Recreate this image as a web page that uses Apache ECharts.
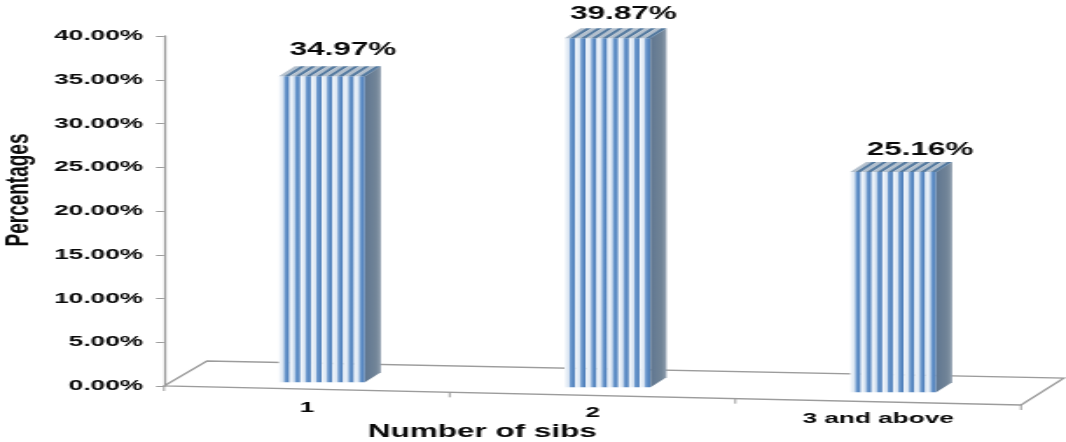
<!DOCTYPE html>
<html>
<head>
<meta charset="utf-8">
<style>
  html, body { margin: 0; padding: 0; background: #fff; overflow: hidden; }
  #chart { width: 610px; height: 442px; transform: scaleX(1.7475); transform-origin: 0 0; }
</style>
<script src="https://cdn.jsdelivr.net/npm/echarts@6/dist/echarts.min.js"></script>
</head>
<body>
<div id="chart"></div>
<script>
const categories = ['1', '2', '3 and above'];
const percentages = [34.97, 39.87, 25.16];

const FONT = '"Liberation Sans", Arial, sans-serif';
const INK = '#0a0a0a';
const RULE = '#9c9c9c';
const K = 1066 / 610;

// Pseudo-3D proportions, in unscaled chart pixels
const barW = 86 / K, depthX = 16 / K, depthY = 10;
const stripes = 8;
const floorDrop = 19, floorBackDrop = 17, floorBackX = 43 / K, floorBackY = 25;
const barShift = 15 / K, barSlope = 0.0175 * K, barSetback = 6.6;
const labelNudgeX = [21 / K, 16 / K, 27 / K];
const labelNudgeY = [16, 14, 12];

const chart = echarts.init(document.getElementById('chart'), null, { devicePixelRatio: 1 });

function stripeFill() {
  return {
    type: 'linear', x: 0, y: 0, x2: 1, y2: 0,
    colorStops: [
      { offset: 0, color: '#f6f9fc' },
      { offset: 0.4, color: '#d8e4f2' },
      { offset: 0.55, color: '#6f9bcf' },
      { offset: 0.85, color: '#4f80bb' },
      { offset: 1, color: '#a9c3e2' }
    ]
  };
}

// Sloped floor with its tick marks, anchored on the axis corners
function renderFloor(params, api) {
  const rect = params.coordSys;
  const ox = rect.x;
  const oy = api.coord([0, 0])[1];
  const right = rect.x + rect.width;
  const line = { stroke: RULE, lineWidth: 1.3, fill: null };
  const front = x => oy + (x - ox) * floorDrop / rect.width;
  const children = [{
    type: 'polygon',
    shape: { points: [
      [ox, oy], [ox + floorBackX, oy - floorBackY],
      [right + floorBackX, oy - floorBackY + floorBackDrop], [right, oy + floorDrop]
    ] },
    style: line
  }];
  for (let i = 0; i <= categories.length; i++) {
    const x = rect.x + rect.width * i / categories.length;
    children.push({
      type: 'line',
      shape: { x1: x, y1: front(x), x2: x, y2: front(x) + 5 },
      style: { stroke: RULE, lineWidth: 1 }
    });
  }
  return { type: 'group', children };
}

function renderBar(params, api) {
  const i = api.value(0);
  const v = api.value(1);
  const ox = params.coordSys.x;
  const zero = api.coord([0, 0])[1];
  const full = api.coord([0, v])[1];
  const cx = api.coord([i, 0])[0] + barShift;
  const x0 = cx - barW / 2, x1 = cx + barW / 2;
  const base = zero - barSetback + (cx - ox) * barSlope;
  const top = base - (zero - full);
  const sw = barW / stripes;
  const children = [];

  for (let s = 0; s < stripes; s++) {
    children.push({
      type: 'rect',
      shape: { x: x0 + s * sw, y: top, width: sw + 0.2, height: base - top },
      style: { fill: stripeFill() }
    });
  }
  // right-hand face
  children.push({
    type: 'polygon',
    shape: { points: [[x1, top], [x1 + depthX, top - depthY], [x1 + depthX, base - depthY], [x1, base]] },
    style: { fill: { type: 'linear', x: 0, y: 0, x2: 1, y2: 0, colorStops: [
      { offset: 0, color: '#5f7690' }, { offset: 0.7, color: '#728598' }, { offset: 1, color: '#8f9eae' }
    ] } }
  });
  // top face: slanted light and dark bands
  for (let s = 0; s < stripes; s++) {
    const a = x0 + s * sw;
    const mid = sw * 0.5;
    children.push({
      type: 'polygon',
      shape: { points: [[a, top], [a + depthX, top - depthY], [a + depthX + mid, top - depthY], [a + mid, top]] },
      style: { fill: '#b4c0cd' }
    });
    children.push({
      type: 'polygon',
      shape: { points: [[a + mid, top], [a + depthX + mid, top - depthY], [a + depthX + sw, top - depthY], [a + sw, top]] },
      style: { fill: '#557a9f' }
    });
  }
  children.push({
    type: 'text',
    x: cx + labelNudgeX[i],
    y: top - depthY - labelNudgeY[i],
    style: {
      text: v.toFixed(2) + '%', fill: INK, fontFamily: FONT, fontWeight: 'bold', fontSize: 18,
      align: 'center', verticalAlign: 'middle'
    }
  });
  return { type: 'group', children };
}

const rich = {};
categories.forEach((c, i) => {
  rich['r' + i] = {
    fontFamily: FONT, fontWeight: 'bold', fontSize: 15, color: INK,
    padding: [[3, 8, 14][i], 0, 0, 0]
  };
});

chart.setOption({
  animation: false,
  backgroundColor: '#fff',
  grid: { left: 164 / K, top: 36, width: 857 / K, height: 350, outerBoundsMode: 'none' },
  xAxis: {
    type: 'category',
    data: categories,
    axisLine: { show: false },
    axisTick: { show: false },
    axisLabel: {
      margin: 11,
      verticalAlign: 'top',
      formatter: (v, i) => '{r' + i + '|' + v + '}',
      rich
    },
    name: 'Number of sibs',
    nameLocation: 'middle',
    nameGap: 37,
    nameMoveOverlap: false,
    nameTextStyle: {
      fontFamily: FONT, fontWeight: 'bold', fontSize: 18, color: INK,
      padding: [0, 220 / K, 0, 0]
    }
  },
  yAxis: {
    type: 'value',
    min: 0,
    max: 40,
    interval: 5,
    splitLine: { show: false },
    axisLine: { show: true, lineStyle: { color: RULE, width: 1.3 } },
    axisTick: { show: true, length: 8 / K, lineStyle: { color: RULE, width: 1 } },
    axisLabel: {
      margin: 12,
      formatter: v => v.toFixed(2) + '%',
      fontFamily: FONT, fontWeight: 'bold', fontSize: 15, color: INK
    },
    name: 'Percentages',
    nameLocation: 'middle',
    nameGap: 74,
    nameRotate: 90,
    nameTextStyle: {
      fontFamily: FONT, fontWeight: 'bold', fontSize: 19, color: INK,
      padding: [0, 0, 0, 42]
    }
  },
  series: [
    {
      type: 'custom',
      renderItem: renderFloor,
      data: [[0, 0]],
      silent: true,
      clip: false,
      z: 1
    },
    {
      type: 'custom',
      renderItem: renderBar,
      encode: { x: 0, y: 1 },
      data: percentages.map((p, i) => [i, p]),
      clip: false,
      z: 2
    }
  ]
});
</script>
</body>
</html>
